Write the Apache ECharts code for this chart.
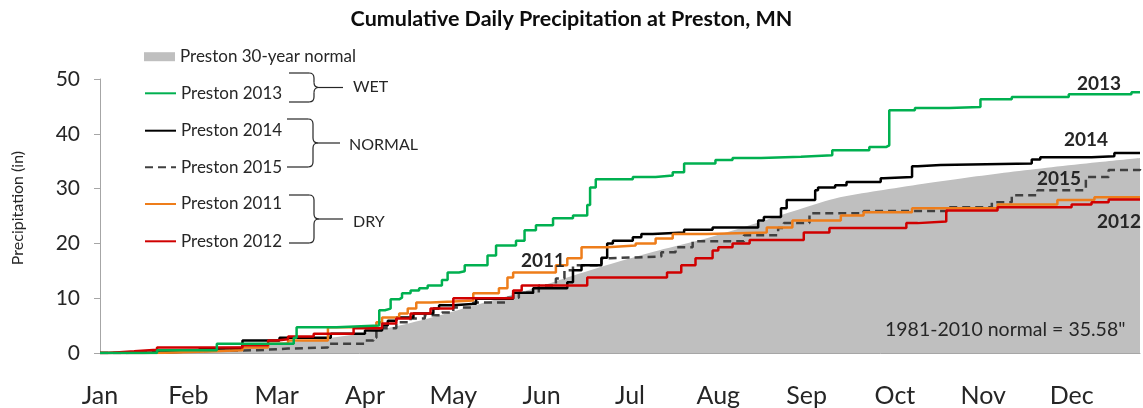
<!DOCTYPE html>
<html><head><meta charset="utf-8">
<script src="https://cdn.jsdelivr.net/npm/echarts@6/dist/echarts.min.js"></script>
<style>html,body{margin:0;padding:0;background:#fff}#c{width:1143px;height:408px}</style>
</head><body><div id="c"></div>
<script>
// ---- data (day of year, cumulative inches) ----
const monthLabels = ['Jan','Feb','Mar','Apr','May','Jun','Jul','Aug','Sep','Oct','Nov','Dec'];
const yTickValues = [0, 10, 20, 30, 40, 50];

const normalDays = [0,15,31,45,59,75,90,105,120,135,151,166,181,196,212,228,243,258,273,289,304,319,334,350,365];
const normalVals = [0,0.4,0.8,1.2,1.6,2.4,3.4,5.0,7.0,9.2,11.6,14.1,16.5,18.7,20.8,23.3,25.8,28.2,29.6,30.9,32.0,33.0,33.9,34.8,35.58];

const days2013 = [0,20,41,68,69,83,98,100,102,105,106,109,112,115,120,122,126,128,136,139,146,149,153,159,166,171,172,174,187,195,201,205,216,222,232,246,257,270,276,277,286,298,309,320,340,362,365];
const vals2013 = [0,0.5,1.7,2.8,4.7,5.0,7.8,8.1,9.8,10.1,10.9,11.4,11.8,12.3,13.3,14.7,14.9,16.0,17.8,19.6,20.5,22.4,23.3,24.6,25.1,27.0,30.2,31.7,32.1,32.4,33.0,34.6,35.2,35.6,35.8,36.1,37.0,37.6,37.9,44.3,44.7,44.9,46.3,46.7,47.2,47.6,47.6];

const days2014 = [0,15,35,50,63,81,93,99,101,104,110,117,119,124,132,145,152,164,166,169,176,178,180,187,190,194,205,215,231,233,239,241,251,252,258,262,274,275,285,287,295,327,330,348,356,365];
const vals2014 = [0,0.3,0.8,2.3,2.8,3.5,4.1,5.0,5.9,6.5,7.2,8.1,8.7,9.0,9.9,11.0,11.8,12.9,15.1,16.0,17.4,20.0,20.5,21.1,21.7,22.0,22.5,22.9,24.2,24.8,26.4,27.9,29.7,30.2,30.6,31.2,31.9,32.1,34.1,34.3,34.6,35.3,35.7,35.9,36.5,36.6];

const days2015 = [0,8,25,55,66,80,93,96,97,104,109,114,120,124,131,143,147,154,160,163,166,176,179,197,202,208,226,238,240,249,268,298,313,320,329,346,354,365];
const vals2015 = [0,0.3,0.5,0.8,1.0,1.7,2.3,2.8,4.5,5.6,6.3,6.9,7.4,8.3,9.2,10.1,11.0,12.3,13.6,15.1,16.0,17.3,17.6,18.4,19.3,20.4,21.5,22.8,23.7,25.5,25.9,26.6,27.5,28.8,29.7,32.1,33.4,33.6];

const days2011 = [0,20,40,50,59,66,80,97,99,105,108,111,116,124,131,140,143,145,160,164,169,178,188,195,201,213,234,243,260,268,285,315,336,349,365];
const vals2011 = [0,0.3,0.5,1.0,1.7,2.3,4.7,5.6,6.5,7.2,8.1,9.2,9.4,9.6,10.9,11.8,13.8,14.7,16.0,17.3,19.3,19.6,20.0,20.9,21.7,22.0,22.9,24.2,25.1,25.7,26.4,27.1,27.9,28.4,28.4];

const days2012 = [0,3,12,20,50,59,62,66,75,89,99,104,109,116,124,145,148,171,199,204,209,215,217,222,228,247,256,283,287,297,315,341,348,354,365];
const vals2012 = [0,0.3,0.6,1.0,1.4,2.3,2.5,3.0,3.5,4.5,5.4,6.3,7.2,8.1,10.0,11.4,12.3,13.8,14.7,16.0,17.3,18.7,19.3,20.0,20.6,22.0,22.8,23.7,24.0,26.0,26.6,27.1,27.5,28.0,28.0];

const legendNames = ['Preston 30-year normal','Preston 2013','Preston 2014','Preston 2015','Preston 2011','Preston 2012'];
const groupLabels = ['WET','NORMAL','DRY'];
const yearLabels = ['2013','2014','2015','2012','2011'];
const normalNote = '1981-2010 normal = 35.58"';
const chartTitle = 'Cumulative Daily Precipitation at Preston, MN';
const yAxisTitle = 'Precipitation (in)';

// ---- build ----
const zip = (d, v) => d.map((x, i) => [x, v[i]]);
const FONT = 'Lato';
const TXT = '#262626';

function stepLine(name, d, v, color, dashed, z) {
  return {
    type: 'line', name, data: zip(d, v), step: 'end', symbol: 'none', z,
    color, lineStyle: { color, width: 2.5, type: dashed ? [8, 5] : 'solid' },
    animation: false
  };
}

const series = [
  { type: 'line', name: legendNames[0], data: zip(normalDays, normalVals), smooth: 0.3, symbol: 'none',
    color: '#bfbfbf', lineStyle: { width: 0 }, areaStyle: { color: '#bfbfbf', opacity: 1 }, z: 1, animation: false },
  stepLine(legendNames[3], days2015, vals2015, '#404040', true, 2),
  stepLine(legendNames[2], days2014, vals2014, '#000000', false, 3),
  stepLine(legendNames[4], days2011, vals2011, '#ee7d1a', false, 4),
  stepLine(legendNames[5], days2012, vals2012, '#d00000', false, 5),
  stepLine(legendNames[1], days2013, vals2013, '#00b050', false, 6)
];

const legendY = [52.7, 89.3, 126.7, 163.3, 200, 237.3];
const legends = legendNames.map((n, i) => ({
  data: [i === 0 ? { name: n, icon: 'rect' } : { name: n }],
  left: 144, top: legendY[i] - 4.5, padding: 0, itemWidth: 31, itemHeight: 9,
  itemStyle: i === 0 ? {} : { opacity: 0 },
  selectedMode: false, textStyle: { fontFamily: FONT, fontSize: 17, color: TXT }
}));

function brace(x0, yTop, yBot, xs, xTip) {
  const r = 5, yMid = (yTop + yBot) / 2;
  const st = { stroke: TXT, lineWidth: 1.2, fill: null };
  const L = (x1, y1, x2, y2) => ({ type: 'line', z: 100, shape: { x1, y1, x2, y2 }, style: st, silent: true });
  const B = (x1, y1, cx, cy, x2, y2) => ({ type: 'bezierCurve', z: 100, shape: { x1, y1, x2, y2, cpx1: cx, cpy1: cy }, style: st, silent: true });
  return [
    L(x0, yTop, xs - r, yTop), B(xs - r, yTop, xs, yTop, xs, yTop + r),
    L(xs, yTop + r, xs, yMid - r), B(xs, yMid - r, xs, yMid, xs + r, yMid),
    L(xs + r, yMid, xTip, yMid), B(xs + r, yMid, xs, yMid, xs, yMid + r),
    L(xs, yMid + r, xs, yBot - r), B(xs, yBot - r, xs, yBot, xs - r, yBot),
    L(xs - r, yBot, x0, yBot)
  ];
}
const txt = (text, x, y, size, bold, align) => ({
  type: 'text', x, y, z: 100, silent: true,
  style: { text, fontFamily: FONT, fontSize: size, fontWeight: bold ? 'bold' : 'normal', fill: TXT,
           align: align || 'left', verticalAlign: 'middle' }
});

const graphics = [
  ...brace(289, 73, 102, 314, 343),
  ...brace(287, 119, 167, 313, 340),
  ...brace(289, 195, 243, 314, 343),
  txt(groupLabels[0], 353, 87, 16),
  txt(groupLabels[1], 349, 145, 16),
  txt(groupLabels[2], 353, 222, 16),
  txt(yearLabels[0], 1077, 84, 19, true),
  txt(yearLabels[1], 1064, 140, 19, true),
  txt(yearLabels[2], 1037, 179, 19, true),
  txt(yearLabels[3], 1097, 222, 19, true),
  txt(yearLabels[4], 521, 261, 19, true),
  txt(normalNote, 885, 330, 19.5),
  { type: 'text', x: 18, y: 208, z: 100, rotation: Math.PI / 2, silent: true,
    style: { text: yAxisTitle, fontFamily: FONT, fontSize: 16, fill: TXT, align: 'center', verticalAlign: 'middle' } }
];

const chart = echarts.init(document.getElementById('c'), null, { renderer: 'canvas' });
chart.setOption({
  animation: false,
  backgroundColor: '#fff',
  title: { text: chartTitle, left: 'center', top: 3,
    textStyle: { fontFamily: FONT, fontSize: 21.5, fontWeight: 'bold', color: '#0d0d0d' } },
  grid: { left: 100, right: -10, top: 79, bottom: 55, containLabel: false },
  legend: legends,
  xAxis: {
    type: 'value', min: 0, max: 365, interval: 31,
    axisLine: { show: true, lineStyle: { color: '#a6a6a6', width: 1 } },
    axisTick: { show: false }, splitLine: { show: false },
    axisLabel: { margin: 30, fontFamily: FONT, fontSize: 25, color: TXT,
      formatter: v => (v % 31 === 0 && monthLabels[v / 31]) ? monthLabels[v / 31] : '' }
  },
  yAxis: {
    type: 'value', min: yTickValues[0], max: yTickValues[yTickValues.length - 1], interval: 10,
    axisLine: { show: true, lineStyle: { color: '#a6a6a6', width: 1 } },
    axisTick: { show: true, length: 6, lineStyle: { color: '#a6a6a6' } },
    splitLine: { show: false },
    axisLabel: { margin: 20, fontFamily: FONT, fontSize: 21, color: TXT }
  },
  series,
  graphic: graphics
});
</script></body></html>
